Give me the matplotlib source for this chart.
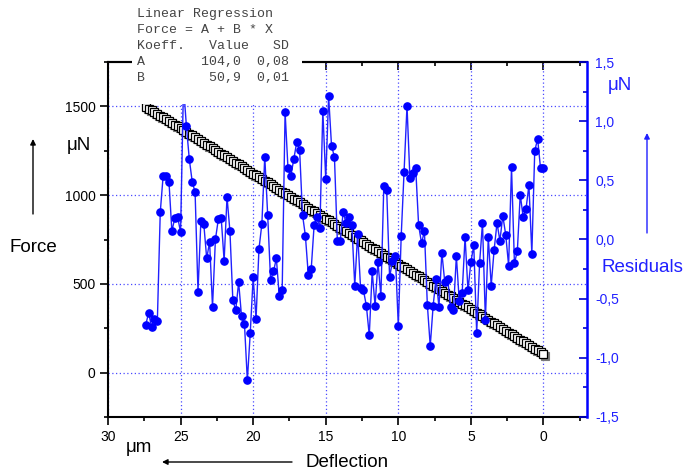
import matplotlib
matplotlib.use('Agg')
import numpy as np
import matplotlib.pyplot as plt
from matplotlib.ticker import MultipleLocator, FuncFormatter
from matplotlib.patches import Rectangle
from matplotlib import transforms

plt.rcParams['font.family'] = ['Liberation Sans', 'DejaVu Sans']

W, H = 693, 473

# deflection in um, 0.2 um steps from 27.4 down to 0
deflection = np.round(27.4 - 0.2 * np.arange(138), 1)

# residuals of the linear fit in uN
residuals = np.array([
    -0.72, -0.62, -0.74, -0.67, -0.69, 0.23, 0.54, 0.54, 0.49, 0.07,
    0.18, 0.19, 0.06, 1.30, 0.96, 0.68, 0.49, 0.40, -0.44, 0.16,
    0.13, -0.16, -0.02, -0.57, 0.00, 0.17, 0.18, -0.18, 0.36, 0.07,
    -0.51, -0.60, -0.36, -0.65, -0.71, -1.19, -0.79, -0.32, -0.67, -0.08,
    0.13, 0.70, 0.21, -0.34, -0.27, -0.16, -0.48, -0.43, 1.08, 0.60,
    0.54, 0.68, 0.82, 0.76, 0.21, 0.03, -0.30, -0.25, 0.12, 0.19,
    0.10, 1.09, 0.51, 1.21, 0.79, 0.70, -0.01, -0.01, 0.23, 0.14,
    0.19, 0.12, -0.39, 0.05, -0.41, -0.43, -0.56, -0.81, -0.27, -0.56,
    -0.19, -0.48, 0.45, 0.42, -0.32, -0.18, -0.14, -0.73, 0.03, 0.57,
    1.13, 0.52, 0.56, 0.60, 0.12, -0.03, 0.07, -0.55, -0.90, -0.56,
    -0.33, -0.57, -0.11, -0.36, -0.33, -0.57, -0.60, -0.14, -0.52, -0.45,
    0.02, -0.43, -0.19, -0.05, -0.79, -0.20, 0.14, -0.68, 0.02, -0.39,
    -0.09, 0.14, -0.01, 0.20, 0.04, -0.22, 0.61, -0.20, -0.10, 0.38,
    0.19, 0.26, 0.46, -0.12, 0.75, 0.85, 0.60, 0.60,
])

# regression result: Force = A + B * X
fit_a, fit_b = 104.0, 50.9
fit_a_sd, fit_b_sd = 0.08, 0.01
force = fit_a + fit_b * deflection + residuals


def fx(px):
    return px / W


def fy(py):
    return 1 - py / H


def comma(v, pos=None):
    s = f"{v:.1f}".replace('.', ',')
    return '0,0' if s == '-0,0' else s


fig = plt.figure(figsize=(W / 100, H / 100), dpi=100)
ax = fig.add_axes([fx(108), fy(417), fx(587 - 108), (417 - 62) / H])

grid_kw = dict(color='#4a4aff', linestyle=(0, (1, 2)), linewidth=0.9)
ax.grid(True, which='major', **grid_kw)
ax.set_axisbelow(True)

# force data with a grey drop shadow
shadow = transforms.offset_copy(ax.transData, fig=fig, x=2, y=-2, units='dots')
ax.plot(deflection, force, ls='none', marker='s', ms=5.2, mfc='#7a7a7a',
        mec='#7a7a7a', mew=0.8, transform=shadow, zorder=2)
ax.plot(deflection, force, ls='none', marker='s', ms=5.2, mfc='white',
        mec='black', mew=0.9, zorder=3)

ax.set_xlim(30, -3)
ax.set_ylim(-250, 1750)
ax.xaxis.set_major_locator(MultipleLocator(5))
ax.xaxis.set_minor_locator(MultipleLocator(2.5))
ax.yaxis.set_major_locator(MultipleLocator(500))
ax.yaxis.set_minor_locator(MultipleLocator(250))
ax.tick_params(which='both', direction='out', width=1.2, labelsize=10, pad=3)
ax.tick_params(which='major', length=6)
ax.tick_params(which='minor', length=3)
for side in ['left', 'bottom', 'top']:
    ax.spines[side].set_linewidth(1.5)
ax.spines['right'].set_visible(False)

# top axis with inward ticks
top = ax.secondary_xaxis('top')
top.xaxis.set_major_locator(MultipleLocator(5))
top.xaxis.set_minor_locator(MultipleLocator(2.5))
top.tick_params(which='both', direction='in', labeltop=False, width=1.2)
top.tick_params(which='major', length=6)
top.tick_params(which='minor', length=3)
top.spines['top'].set_linewidth(1.5)

# residuals on the right axis
ax2 = ax.twinx()
ax2.plot(deflection, residuals, '-', color='#2020ff', lw=1.0, marker='o',
         ms=5.2, mfc='#0000ff', mec='#0000ff', zorder=3)
ax2.set_ylim(-1.5, 1.5)
ax2.yaxis.set_major_locator(MultipleLocator(0.5))
ax2.yaxis.set_minor_locator(MultipleLocator(0.25))
ax2.yaxis.set_major_formatter(FuncFormatter(comma))
ax2.tick_params(which='both', direction='in', color='#0000cc', width=1.2,
                labelcolor='#2020ff', labelsize=10, pad=6)
ax2.tick_params(which='major', length=6)
ax2.tick_params(which='minor', length=3)
for side in ['left', 'bottom', 'top']:
    ax2.spines[side].set_visible(False)
ax2.spines['right'].set_color('#0000ff')
ax2.spines['right'].set_linewidth(1.8)

# regression result box
fig.patches.append(Rectangle((fx(132), fy(104)), fx(302 - 132), 104 / H,
                             transform=fig.transFigure, facecolor='white',
                             edgecolor='none', zorder=2))
reg_lines = [
    "Linear Regression",
    "Force = A + B * X",
    "Koeff.   Value   SD",
    f"A       {fit_a:5.1f}  {fit_a_sd:.2f}".replace('.', ','),
    f"B       {fit_b:5.1f}  {fit_b_sd:.2f}".replace('.', ','),
]
for i, line in enumerate(reg_lines):
    fig.text(fx(137), fy(13.7 + 16 * i), line, ha='left', va='center',
             fontsize=9.5, color='#444444',
             family=['Liberation Mono', 'DejaVu Sans Mono'], zorder=3)

# axis titles and arrows
fig.text(fx(33.5), fy(247), 'Force', ha='center', va='center', fontsize=13.5)
fig.text(fx(79), fy(146), 'μN', ha='center', va='center', fontsize=13.5)
fig.text(fx(642), fy(268), 'Residuals', ha='center', va='center',
         fontsize=13.5, color='#2020ff')
fig.text(fx(620), fy(85), 'μN', ha='center', va='center', fontsize=13.5,
         color='#2020ff')
fig.text(fx(347), fy(462), 'Deflection', ha='center', va='center', fontsize=13.5)
fig.text(fx(139), fy(447), 'μm', ha='center', va='center', fontsize=13.5)

arrow_kw = dict(arrowstyle='-|>', lw=1.0, mutation_scale=8, shrinkA=0, shrinkB=0)
for (x0, y0), (x1, y1), col in [((33, 214), (33, 139), 'black'),
                                ((647, 233), (647, 133), '#2020ff'),
                                ((292, 462), (162, 462), 'black')]:
    ax.annotate('', xy=(fx(x1), fy(y1)), xytext=(fx(x0), fy(y0)),
                xycoords='figure fraction', textcoords='figure fraction',
                arrowprops=dict(color=col, **arrow_kw), annotation_clip=False)

plt.savefig('out.png', dpi=100)
plt.close()
